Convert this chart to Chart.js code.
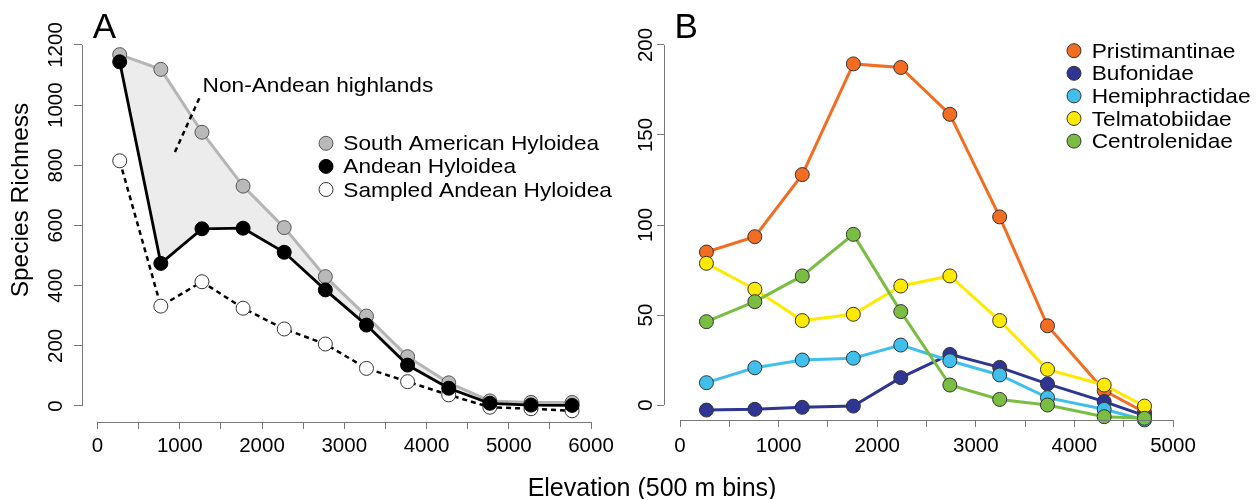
<!DOCTYPE html>
<html>
<head>
<meta charset="utf-8">
<title>Species richness by elevation</title>
<script src="https://cdn.jsdelivr.net/npm/chart.js@4.4.1/dist/chart.umd.min.js"></script>
<style>
  html, body { margin: 0; padding: 0; background: #fff; }
  #wrap { position: relative; width: 1256px; height: 499px; }
  #wrap canvas { position: absolute; left: 0; top: 0; }
</style>
</head>
<body>
<div id="wrap">
  <canvas id="chartA" width="1256" height="499"></canvas>
  <canvas id="chartB" width="1256" height="499"></canvas>
</div>
<script>
const FONT = '"Liberation Sans", Arial, Helvetica, sans-serif';

// ---- Panel A: Hyloidea richness per 500 m elevation bin ----
const elevA = [270, 770, 1270, 1770, 2270, 2770, 3270, 3770, 4270, 4770, 5270, 5770];
const southAmerican = [1168, 1119, 910, 731, 593, 430, 299, 164, 77, 17, 12, 12];
const andean = [1144, 474, 589, 591, 511, 386, 269, 136, 59, 9, 3, 2];
const sampledAndean = [815, 332, 413, 325, 256, 206, 125, 81, 37, -4, -9, -16];
const xTicksA = [0, 500, 1000, 1500, 2000, 2500, 3000, 3500, 4000, 4500, 5000, 5500, 6000];
const yTicksA = [0, 200, 400, 600, 800, 1000, 1200];

// ---- Panel B: richness per family ----
const elevB = [268, 759, 1240, 1758, 2239, 2737, 3242, 3727, 4302, 4711];
const pristimantinae = [85, 93.5, 128, 189.5, 187.5, 161.5, 104.5, 44, 8, -4];
const bufonidae = [-2.8, -2.4, -1.3, -0.6, 15.2, 28.1, 20.9, 11.7, 1.9, -5.9];
const hemiphractidae = [12.4, 20.7, 25, 26, 33.3, 24.6, 16.7, 4.1, -2.4, -8.3];
const telmatobiidae = [78.7, 64.3, 46.9, 50.4, 66.1, 71.7, 46.9, 19.8, 11.1, -0.6];
const centrolenidae = [46.3, 57.4, 71.7, 94.8, 51.9, 11.1, 3.1, 0, -6.5, -7.4];
const xTicksB = [0, 500, 1000, 1500, 2000, 2500, 3000, 3500, 4000, 4500, 5000];
const yTicksB = [0, 50, 100, 150, 200];

// annotation of the shaded area, in data units of panel A
const noteText = 'Non-Andean highlands';
const noteAt = [1277, 1045];
const notePointer = [[1238, 1023], [934, 840]];

function pts(xs, ys) {
  return xs.map((x, i) => ({ x: x, y: ys[i] }));
}

// text drawn slightly wider, like the original figure's type
function drawText(ctx, txt, x, y, size, align, sx) {
  ctx.save();
  ctx.font = size + 'px ' + FONT;
  ctx.fillStyle = '#000';
  ctx.textAlign = align;
  ctx.textBaseline = 'alphabetic';
  ctx.translate(x, y);
  ctx.scale(sx, 1);
  ctx.fillText(txt, 0, 0);
  ctx.restore();
}

function drawRotated(ctx, txt, x, y, size) {
  ctx.save();
  ctx.font = size + 'px ' + FONT;
  ctx.fillStyle = '#000';
  ctx.textAlign = 'center';
  ctx.textBaseline = 'alphabetic';
  ctx.translate(x, y);
  ctx.rotate(-Math.PI / 2);
  ctx.fillText(txt, 0, 0);
  ctx.restore();
}

// R-style axes, labels, legend and panel letter
function decoPlugin(cfg) {
  return {
    id: 'deco' + cfg.letter,
    afterDraw(chart) {
      const ctx = chart.ctx;
      const xs = chart.scales.x, ys = chart.scales.y, area = chart.chartArea;
      ctx.save();
      ctx.strokeStyle = '#777';
      ctx.lineWidth = 1;
      ctx.beginPath();
      const yb = Math.round(area.bottom) + 0.5;
      ctx.moveTo(xs.getPixelForValue(cfg.xTicks[0]), yb);
      ctx.lineTo(xs.getPixelForValue(cfg.xTicks[cfg.xTicks.length - 1]), yb);
      const xl = Math.round(area.left) + 0.5;
      ctx.moveTo(xl, ys.getPixelForValue(cfg.yTicks[0]));
      ctx.lineTo(xl, ys.getPixelForValue(cfg.yTicks[cfg.yTicks.length - 1]));
      ctx.stroke();
      ctx.restore();

      cfg.yTicks.forEach(v => drawRotated(ctx, String(v), cfg.yLabelX, ys.getPixelForValue(v), 20.5));

      if (cfg.yTitle) drawRotated(ctx, cfg.yTitle, 28, 200, 24.5);
      if (cfg.xTitle) drawText(ctx, cfg.xTitle, 652, 495.5, 25, 'center', 1);
      drawText(ctx, cfg.letter, cfg.letterX, 38.3, 35, 'left', 1);

      // legend
      chart.data.datasets.forEach((ds, i) => {
        const cy = cfg.legend.y + i * cfg.legend.dy;
        ctx.save();
        ctx.beginPath();
        ctx.arc(cfg.legend.x, cy, 7, 0, Math.PI * 2);
        ctx.fillStyle = ds.pointBackgroundColor;
        ctx.fill();
        ctx.lineWidth = 1;
        ctx.strokeStyle = ds.pointBorderColor;
        ctx.stroke();
        ctx.restore();
        drawText(ctx, ds.label, cfg.legend.textX, cy + 7, 21, 'left', 1.08);
      });

      if (cfg.note) {
        ctx.save();
        ctx.strokeStyle = '#000';
        ctx.lineWidth = 2.5;
        ctx.setLineDash([5, 4]);
        ctx.beginPath();
        ctx.moveTo(xs.getPixelForValue(notePointer[0][0]), ys.getPixelForValue(notePointer[0][1]));
        ctx.lineTo(xs.getPixelForValue(notePointer[1][0]), ys.getPixelForValue(notePointer[1][1]));
        ctx.stroke();
        ctx.restore();
        drawText(ctx, noteText, xs.getPixelForValue(noteAt[0]), ys.getPixelForValue(noteAt[1]), 21, 'left', 1.08);
      }
    }
  };
}

function xScale(min, max, ticks, height, pad) {
  return {
    type: 'linear', min: min, max: max,
    afterBuildTicks: s => { s.ticks = ticks.map(v => ({ value: v })); },
    afterFit: s => { s.height = height; },
    grid: { drawOnChartArea: false, drawTicks: true, tickLength: 7, color: '#777', lineWidth: 1 },
    border: { display: false },
    ticks: {
      autoSkip: false, maxRotation: 0, padding: pad, color: '#000',
      font: { family: FONT, size: 20.5 },
      callback: v => (v % 1000 === 0 ? String(v) : '')
    }
  };
}

function yScale(min, max, ticks, width, tickLen) {
  return {
    type: 'linear', min: min, max: max,
    afterBuildTicks: s => { s.ticks = ticks.map(v => ({ value: v })); },
    afterFit: s => { s.width = width; },
    grid: { drawOnChartArea: false, drawTicks: true, tickLength: tickLen, color: '#777', lineWidth: 1 },
    border: { display: false },
    ticks: { display: false }
  };
}

function baseOptions(padding, scales) {
  return {
    responsive: false,
    animation: false,
    events: [],
    layout: { padding: padding },
    plugins: {
      legend: { display: false },
      tooltip: { enabled: false },
      filler: { drawTime: 'beforeDatasetsDraw', propagate: false }
    },
    scales: scales
  };
}

new Chart(document.getElementById('chartA'), {
  type: 'line',
  data: {
    datasets: [
      {
        label: 'South American Hyloidea', data: pts(elevA, southAmerican),
        borderColor: '#b5b5b5', borderWidth: 3, backgroundColor: '#ececec', fill: '+1',
        pointRadius: 7, pointBackgroundColor: '#b9b9b9', pointBorderColor: '#555', pointBorderWidth: 1,
        tension: 0, clip: false, order: 2
      },
      {
        label: 'Andean Hyloidea', data: pts(elevA, andean),
        borderColor: '#000', borderWidth: 2.8, fill: false,
        pointRadius: 7, pointBackgroundColor: '#000', pointBorderColor: '#000', pointBorderWidth: 1,
        tension: 0, clip: false, order: 1
      },
      {
        label: 'Sampled Andean Hyloidea', data: pts(elevA, sampledAndean),
        borderColor: '#000', borderWidth: 2.5, borderDash: [5, 4], fill: false,
        pointRadius: 7, pointBackgroundColor: '#fff', pointBorderColor: '#333', pointBorderWidth: 1,
        tension: 0, clip: false, order: 3
      }
    ]
  },
  options: baseOptions({ left: 0, right: 649, top: 30, bottom: 0 }, {
    x: xScale(-188.45, 6194.5, xTicksA, 77, 5),
    y: yScale(-53.19, 1249.86, yTicksA, 82, 8)
  }),
  plugins: [decoPlugin({
    letter: 'A', letterX: 92.7, xTicks: xTicksA, yTicks: yTicksA, yLabelX: 61.7,
    yTitle: 'Species Richness', xTitle: 'Elevation (500 m bins)',
    legend: { x: 326, y: 143.3, dy: 23.1, textX: 343.3 }, note: true
  })]
});

function family(label, ys, color, order) {
  return {
    label: label, data: pts(elevB, ys),
    borderColor: color, borderWidth: 3, fill: false,
    pointRadius: 7, pointBackgroundColor: color, pointBorderColor: '#333', pointBorderWidth: 1,
    tension: 0, clip: false, order: order
  };
}

new Chart(document.getElementById('chartB'), {
  type: 'line',
  data: {
    datasets: [
      family('Pristimantinae', pristimantinae, '#f26d21', 5),
      family('Bufonidae', bufonidae, '#2e3592', 4),
      family('Hemiphractidae', hemiphractidae, '#40bfec', 3),
      family('Telmatobiidae', telmatobiidae, '#ffe900', 2),
      family('Centrolenidae', centrolenidae, '#79bd42', 1)
    ]
  },
  options: baseOptions({ left: 624, right: 68, top: 30, bottom: 0 }, {
    x: xScale(-162.3, 5152.1, xTicksB, 79, 7),
    y: yScale(-8.333, 208.333, yTicksB, 40, 7)
  }),
  plugins: [decoPlugin({
    letter: 'B', letterX: 674.5, xTicks: xTicksB, yTicks: yTicksB, yLabelX: 651.7,
    legend: { x: 1074, y: 50.7, dy: 22.6, textX: 1091.7 }, note: false
  })]
});
</script>
</body>
</html>
